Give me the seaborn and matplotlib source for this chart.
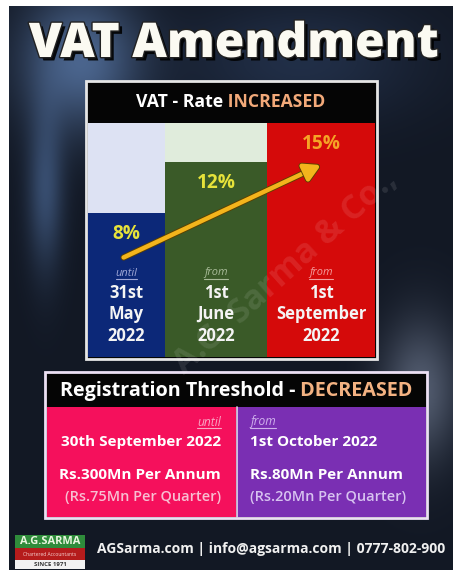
import numpy as np
import matplotlib
matplotlib.use("Agg")
import matplotlib.pyplot as plt
import matplotlib.patheffects as pe
from matplotlib.patches import Rectangle
import seaborn as sns

# ---------------- data ----------------
rates = [8, 12, 15]
rate_prefix = ["until", "from", "from"]
rate_day = ["31st", "1st", "1st"]
rate_month = ["May", "June", "September"]
rate_year = ["2022", "2022", "2022"]
periods = ["until 31st May 2022", "from 1st June 2022", "from 1st September 2022"]

thr_prefix = ["until", "from"]
thr_date = ["30th September 2022", "1st October 2022"]
thr_annual = [300, 80]     # Rs. Mn per annum
thr_quarter = [75, 20]     # Rs. Mn per quarter

title = "VAT Amendment"
footer = "AGSarma.com | info@agsarma.com | 0777-802-900"

# ---------------- style ----------------
bar_colors = ["#0c2878", "#3a5a28", "#d50a0a"]
light_colors = ["#dde2f3", "#e0ecdc", "#d50a0a"]
pct_colors = ["#e6e23a", "#e6e23a", "#f5a326"]
prefix_colors = ["#9ea6d6", "#a8bb98", "#f39a9a"]
col_widths = [77, 102, 108]   # pixel widths of the three columns
BASE = -3.1                   # visual baseline of the rate axis
TOP = 15

sns.set_theme(style="white")
FONT = ["Open Sans", "DejaVu Sans"]
plt.rcParams["font.family"] = FONT

W, H = 453, 570
fig = plt.figure(figsize=(W / 100, H / 100), dpi=100)
fig.patch.set_facecolor("white")
bg = fig.add_axes([0, 0, 1, 1])
bg.set_xlim(0, W)
bg.set_ylim(H, 0)
bg.axis("off")
bg.set_zorder(0)

# dark photographic-like background
yy, xx = np.mgrid[0:H, 0:W]
img = np.zeros((H, W, 3))
img[:] = np.array([18, 24, 36]) / 255
def blob(cx, cy, sx, sy, col, a):
    g = np.exp(-(((xx - cx) / sx) ** 2 + ((yy - cy) / sy) ** 2))
    return g[..., None] * (np.array(col) / 255) * a
img += blob(80, 60, 60, 70, [70, 95, 130], 0.8)
img += blob(45, 190, 18, 80, [60, 85, 120], 0.6)
img += blob(420, 390, 40, 70, [90, 95, 105], 0.7)
img += blob(300, 60, 120, 60, [30, 45, 70], 0.5)
img = np.clip(img, 0, 1)
bg.imshow(img[6:, 9:], extent=(9, W, H, 6), aspect="auto", zorder=0)

# chart axes (middle layer)
ax = fig.add_axes([88 / W, (H - 357) / H, 287 / W, 234 / H])
ax.set_zorder(1)

# overlay axes for texts (top layer)
ov = fig.add_axes([0, 0, 1, 1])
ov.set_xlim(0, W)
ov.set_ylim(H, 0)
ov.axis("off")
ov.set_zorder(2)
ov.patch.set_alpha(0)

R = fig.canvas.get_renderer()

def px(p):
    return p * 0.72

def measure(t):
    return t.get_window_extent(renderer=R).width

def fit(t, width):
    w = measure(t)
    t.set_fontsize(t.get_fontsize() * width / w)

def rich(x, y, parts, size, width=None, weight="bold"):
    ts, ws = [], []
    for s, c in parts:
        t = ov.text(0, y, s, color=c, fontsize=size, fontweight=weight,
                    ha="left", va="center", zorder=6)
        ts.append(t)
        ws.append(measure(t))
    if width is not None:
        k = width / sum(ws)
        for t in ts:
            t.set_fontsize(t.get_fontsize() * k)
        ws = [measure(t) for t in ts]
    x0 = x - sum(ws) / 2
    for t, w in zip(ts, ws):
        t.set_x(x0)
        x0 += w

def underlined(x, y, s, color, size, ha):
    t = ov.text(x, y, s, color=color, fontsize=size, style="italic",
                ha=ha, va="center", zorder=6)
    w = measure(t)
    if ha == "center":
        x0 = x - w / 2
    elif ha == "right":
        x0 = x - w
    else:
        x0 = x
    ov.plot([x0, x0 + w], [y + 6, y + 6], color=color, lw=0.8, zorder=6)

# ---------------- title ----------------
tt = ov.text(234, 45, title, color="#fbfaf2", fontsize=px(48), fontweight="heavy",
             ha="center", va="center", zorder=6,
             path_effects=[pe.withSimplePatchShadow(offset=(2.5, -2.5), shadow_rgbFace="black", alpha=0.9),
                           pe.withStroke(linewidth=2, foreground="#222222")])
fit(tt, 410)

# ---------------- VAT rate panel ----------------
bg.add_patch(Rectangle((86, 81), 291, 278, facecolor="#050505", edgecolor="#e6e6e6", lw=2, zorder=2))
rich(231, 102, [("VAT - Rate", "white"), (" INCREASED", "#f2a979")], px(17), width=189)

sns.barplot(x=periods, y=rates, hue=periods, palette=bar_colors, legend=False,
            width=1, saturation=1, ax=ax, zorder=2)
total = sum(col_widths)
edges = np.concatenate([[0], np.cumsum(col_widths)]) / total * 3 - 0.5
centers = (edges[:-1] + edges[1:]) / 2
for patch, left, w, v in zip(ax.patches, edges[:-1], np.diff(edges), rates):
    patch.set_x(left)
    patch.set_width(w)
    patch.set_y(BASE)
    patch.set_height(v - BASE)
    patch.set_linewidth(0)
ax.bar(centers, TOP - BASE, bottom=BASE, width=np.diff(edges), color=light_colors, zorder=1, lw=0)
ax.set_xlim(-0.5, 2.5)
ax.set_ylim(BASE, TOP)
ax.axis("off")

for i, v in enumerate(rates):
    ax.annotate(f"{v}%", (centers[i], v), xytext=(0, -21), textcoords="offset pixels",
                ha="center", va="center", color=pct_colors[i], fontsize=px(19),
                fontweight="bold", zorder=5)

# arrow
ax.annotate("", xy=(centers[2], 11.75), xytext=(centers[0] - 0.03, 4.6),
            arrowprops=dict(arrowstyle="-|>,head_length=0.8,head_width=0.45", color="#f3b41c", lw=3.2,
                            shrinkA=0, shrinkB=0,
                            path_effects=[pe.withStroke(linewidth=4.5, foreground="#5a4000")]),
            zorder=6)

col_px = [88 + ((c + 0.5) / 3) * 287 for c in centers]
for i in range(3):
    cx = col_px[i]
    underlined(cx, 273, rate_prefix[i], prefix_colors[i], px(11), "center")
    for y, s in zip([293, 314, 336], [rate_day[i], rate_month[i], rate_year[i]]):
        ov.text(cx, y, s, color="#f4f4f4", fontsize=px(16.5), fontweight="bold",
                ha="center", va="center", zorder=6)

# watermark
ov.text(285, 272, "A.G. Sarma & Co.,", color="white", alpha=0.10, fontsize=px(34),
        fontweight="bold", rotation=42, ha="center", va="center", zorder=7)

# ---------------- registration threshold panel ----------------
bg.add_patch(Rectangle((45, 372), 382, 146, facecolor="#050505", edgecolor="#ece0f4", lw=2, zorder=2))
bg.add_patch(Rectangle((47, 407), 189, 110, facecolor="#f5105c", lw=0, zorder=3))
bg.add_patch(Rectangle((237, 407), 189, 110, facecolor="#7a2fb3", lw=0, zorder=3))
bg.plot([236.5, 236.5], [407, 517], color="#e8d8f0", lw=1.2, zorder=4)
rich(236, 391, [("Registration Threshold -", "white"), (" DECREASED", "#f3b282")], px(19.5), width=353)

thr_x = [221, 250]
thr_ha = ["right", "left"]
thr_pref_col = ["#f9a6c4", "#cfb0ec"]
thr_q_col = ["#f8bfd2", "#d7c3f0"]
for i in range(2):
    underlined(thr_x[i], 422, thr_prefix[i], thr_pref_col[i], px(12), thr_ha[i])
    ov.text(thr_x[i], 442, thr_date[i], color="white", fontsize=px(15.2), fontweight="bold",
            ha=thr_ha[i], va="center", zorder=6)
    ov.text(thr_x[i], 475, f"Rs.{thr_annual[i]}Mn Per Annum", color="white", fontsize=px(15.2),
            fontweight="bold", ha=thr_ha[i], va="center", zorder=6)
    ov.text(thr_x[i], 497, f"(Rs.{thr_quarter[i]}Mn Per Quarter)", color=thr_q_col[i],
            fontsize=px(14.5), fontweight="semibold", ha=thr_ha[i], va="center", zorder=6)

# ---------------- footer ----------------
bg.add_patch(Rectangle((15, 535), 70, 13, facecolor="#2f8c3b", lw=0, zorder=3))
bg.add_patch(Rectangle((15, 548), 70, 12, facecolor="#b51c1c", lw=0, zorder=3))
bg.add_patch(Rectangle((15, 560), 70, 9, facecolor="#f2f2f2", lw=0, zorder=3))
ov.text(50, 541.5, "A.G.SARMA", color="#eaf6e0", fontsize=px(11), fontweight="bold",
        ha="center", va="center", zorder=6)
ov.text(50, 554, "Chartered Accountants", color="#f5d0d0", fontsize=px(5), ha="center", va="center", zorder=6)
ov.text(50, 564.5, "SINCE 1971", color="#333333", fontsize=px(6), fontweight="bold",
        ha="center", va="center", zorder=6)
ft = ov.text(97, 549, footer, color="#f0f0f0", fontsize=px(14), fontweight="bold",
             ha="left", va="center", zorder=6)
fit(ft, 348)

fig.savefig("out.png", dpi=100, facecolor=fig.get_facecolor())
